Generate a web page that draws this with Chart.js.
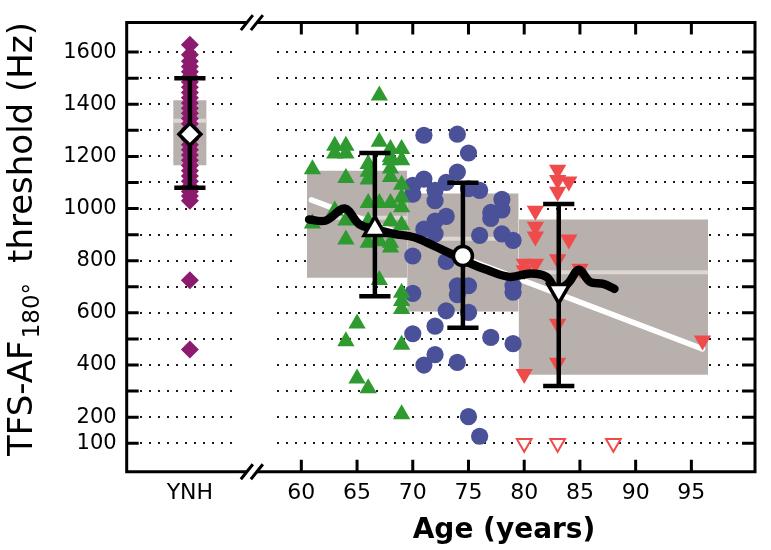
<!DOCTYPE html>
<html>
<head>
<meta charset="utf-8">
<script src="https://cdn.jsdelivr.net/npm/chart.js@4.4.0/dist/chart.umd.min.js"></script>
<style>html,body{margin:0;padding:0;background:#fff}canvas{display:block}</style>
</head>
<body>
<canvas id="c" width="771" height="550"></canvas>
<script>
// ---------------- data ----------------
const YNH_POS = 50;            // scale position used for the YNH column
const xTickValues = [60, 65, 70, 75, 80, 85, 90, 95];
const yTickLabels = [100, 200, 400, 600, 800, 1000, 1200, 1400, 1600];
const yTickMarks = [100,200,300,400,500,600,700,800,900,1000,1100,1200,1300,1400,1500,1600];

// young normal-hearing listeners
const ynhValues = [1628,1590,1565,1545,1525,1505,1485,1465,1445,1425,1405,1385,1365,1345,1325,1305,1285,1265,1245,1225,1205,1185,1165,1145,1125,1105,1085,1065,1048,1030,725,460];
const ynhStats = { mean: 1285, low: 1080, high: 1500, q1: 1166, median: 1337, q3: 1415 };

// elderly, 60-69
const greenAges   = [61,61,63,63,63,64,64,64,64,64,64,65,65,66,66,66,66,66,66,66,67,67,67,67,67,68,68,68,68,68,68,68,68,68,69,69,69,69,69,69,69,69,69,69,69];
const greenValues = [1151,943,1241,1211,993,1241,1211,1117,954,881,491,559,348,311,1171,1141,1111,1021,869,951,1433,1256,1021,875,726,1228,1198,1185,1154,1121,1021,869,851,951,1228,1185,1091,1042,1005,937,677,646,615,478,211];
// elderly, 70-79
const blueAges   = [71,74,75,74,71,70,70,73,72,72,76,75,78,77,78,77,73,72,71,72,76,78,79,70,73,74,75,74,79,79,70,73,75,70,72,77,79,71,72,74,75,76];
const blueValues = [1281,1285,1213,1140,1113,1089,1055,1100,1070,1030,1070,1076,1035,985,995,962,970,952,921,903,897,903,878,818,797,704,704,670,704,679,675,608,602,520,549,506,482,400,440,410,202,127];
// elderly, 80+
const redAges   = [83,83,84,83,81,81,81,84,83,80,81,85,80,83,83,80,96];
const redValues = [1149,1109,1104,1064,992,930,893,881,806,788,788,769,763,558,409,366,494];
const redCensoredAges   = [80,83,88];
const redCensoredValues = [100,100,100];

// age-group summaries
const groupAgeStart = [60.5, 69.5, 79.5];
const groupAgeEnd   = [69.5, 79.5, 96.5];
const groupQ1       = [735, 605, 363];
const groupQ3       = [1145, 1058, 958];
const groupMedian   = [965, 884, 756];
const groupMeanAge  = [66.6, 74.5, 83.1];
const groupMean     = [921, 818, 685];
const groupLow      = [664, 543, 320];
const groupHigh     = [1213, 1099, 1017];

// running average and linear regression
const trendAges   = [60.7,62.2,63.9,65.2,66.6,68.3,70.1,71.9,73.4,75.1,76.7,78.7,80.6,82.0,82.9,83.9,84.9,85.9,87.1,88.1];
const trendValues = [958,954,1000,940,921,903,890,857,827,791,764,738,751,738,690,712,765,719,711,692];
const regressionAges   = [60.9, 96];
const regressionValues = [1033, 462];

// ---------------- styles ----------------
const C_PURPLE = '#8c1b6e', C_GREEN = '#2f9a30', C_BLUE = '#4a5198', C_RED = '#ef4b4b';
const C_BOX = '#b8b0ad', C_MED = '#ddd7d4';
const YNH_BOX_HALF = 1.5, CAP_HALF = 1.4;
const BREAK_AGE = 55.56;

const pts = (xs, ys) => xs.map((x, i) => ({ x, y: ys[i] }));
const datasets = [];

// boxes
const boxes = [{ s: YNH_POS - YNH_BOX_HALF, e: YNH_POS + YNH_BOX_HALF, q1: ynhStats.q1, q3: ynhStats.q3, m: ynhStats.median }];
groupAgeStart.forEach((s, i) => boxes.push({ s, e: groupAgeEnd[i], q1: groupQ1[i], q3: groupQ3[i], m: groupMedian[i] }));
boxes.forEach(b => {
  datasets.push({ type: 'line', order: 100, data: [{ x: b.s, y: b.q3 }, { x: b.e, y: b.q3 }],
    fill: { value: b.q1 }, backgroundColor: C_BOX, borderWidth: 0, pointRadius: 0 });
  datasets.push({ type: 'line', order: 90, data: [{ x: b.s, y: b.m }, { x: b.e, y: b.m }],
    borderColor: C_MED, borderWidth: 4, pointRadius: 0, fill: false });
});
// regression
datasets.push({ type: 'line', order: 80, data: pts(regressionAges, regressionValues), borderColor: '#ffffff', borderWidth: 5.5, pointRadius: 0, fill: false, borderCapStyle: 'round' });

// scatter groups
datasets.push({ type: 'scatter', order: 50, data: ynhValues.map(v => ({ x: YNH_POS, y: v })), pointStyle: 'rectRot', pointRadius: 9, backgroundColor: C_PURPLE, borderWidth: 0 });
datasets.push({ type: 'scatter', order: 50, data: pts(greenAges, greenValues), pointStyle: 'triangle', pointRadius: 10, backgroundColor: C_GREEN, borderWidth: 0 });
datasets.push({ type: 'scatter', order: 50, data: pts(blueAges, blueValues), pointStyle: 'circle', pointRadius: 8.6, backgroundColor: C_BLUE, borderWidth: 0 });
datasets.push({ type: 'scatter', order: 50, data: pts(redAges, redValues), pointStyle: 'triangle', rotation: 180, pointRadius: 10, backgroundColor: C_RED, borderWidth: 0 });
datasets.push({ type: 'scatter', order: 50, data: pts(redCensoredAges, redCensoredValues), pointStyle: 'triangle', rotation: 180, pointRadius: 8.5, backgroundColor: '#ffffff', borderColor: C_RED, borderWidth: 2 });

// running average
datasets.push({ type: 'line', order: 30, data: pts(trendAges, trendValues), borderColor: '#000', borderWidth: 8.5, pointRadius: 0, tension: 0.35, fill: false, borderCapStyle: 'round', borderJoinStyle: 'round' });

// error bars
const meanX = [YNH_POS].concat(groupMeanAge);
const meanY = [ynhStats.mean].concat(groupMean);
const lowY = [ynhStats.low].concat(groupLow);
const highY = [ynhStats.high].concat(groupHigh);
meanX.forEach((mx, i) => {
  datasets.push({ type: 'line', order: 20, spanGaps: false, borderColor: '#000', borderWidth: 4.5, pointRadius: 0, fill: false,
    data: [{ x: mx, y: lowY[i] }, { x: mx, y: highY[i] }, { x: mx, y: null },
           { x: mx - CAP_HALF, y: highY[i] }, { x: mx + CAP_HALF, y: highY[i] }, { x: mx, y: null },
           { x: mx - CAP_HALF, y: lowY[i] }, { x: mx + CAP_HALF, y: lowY[i] }] });
});
// means
const meanStyles = ['rectRot', 'triangle', 'circle', 'triangle'];
const meanRot = [0, 0, 0, 180];
const meanRad = [11, 12.5, 9.5, 12.5];
meanX.forEach((mx, i) => {
  datasets.push({ type: 'scatter', order: 10, data: [{ x: mx, y: meanY[i] }], pointStyle: meanStyles[i], rotation: meanRot[i],
    pointRadius: meanRad[i], backgroundColor: '#fff', borderColor: '#000', borderWidth: 3.5 });
});

// ---------------- decorations ----------------
const decor = {
  id: 'decor',
  beforeDatasetsDraw(chart) {
    const { ctx, chartArea: a, scales: { x, y } } = chart;
    const bx = x.getPixelForValue(BREAK_AGE);
    ctx.save();
    // dotted grid
    ctx.fillStyle = '#1a1a1a';
    yTickMarks.forEach(v => {
      const py = Math.round(y.getPixelForValue(v)) - 1;
      for (let px = a.left + 13; px <= bx - 22; px += 9) ctx.fillRect(Math.round(px), py, 2, 2);
      for (let px = bx + 25; px <= a.right - 16; px += 9) ctx.fillRect(Math.round(px), py, 2, 2);
    });
    ctx.restore();
  },
  afterDatasetsDraw(chart) {
    const { ctx, chartArea: a, scales: { x, y } } = chart;
    const bx = x.getPixelForValue(BREAK_AGE);
    ctx.save();
    ctx.strokeStyle = '#000';
    ctx.lineWidth = 3;
    ctx.lineCap = 'butt';
    ctx.beginPath();
    // left & right axes
    ctx.moveTo(a.left, a.top - 1.5); ctx.lineTo(a.left, a.bottom + 1.5);
    ctx.moveTo(a.right, a.top - 1.5); ctx.lineTo(a.right, a.bottom + 1.5);
    // top / bottom with break
    [a.top, a.bottom].forEach(py => {
      ctx.moveTo(a.left, py); ctx.lineTo(bx - 5, py);
      ctx.moveTo(bx + 5, py); ctx.lineTo(a.right, py);
    });
    ctx.stroke();
    // break marks
    ctx.lineWidth = 3;
    ctx.beginPath();
    [a.top, a.bottom].forEach(py => {
      [-5, 5].forEach(off => {
        ctx.moveTo(bx + off - 6, py + 7.5);
        ctx.lineTo(bx + off + 6, py - 7.5);
      });
    });
    ctx.stroke();
    // tick marks
    ctx.lineWidth = 3;
    ctx.beginPath();
    yTickMarks.forEach(v => {
      const py = y.getPixelForValue(v);
      ctx.moveTo(a.left, py); ctx.lineTo(a.left + 12, py);
      ctx.moveTo(a.right, py); ctx.lineTo(a.right - 13, py);
    });
    xTickValues.forEach(v => {
      const px = x.getPixelForValue(v);
      ctx.moveTo(px, a.top); ctx.lineTo(px, a.top + 12);
      ctx.moveTo(px, a.bottom); ctx.lineTo(px, a.bottom - 12);
    });
    ctx.stroke();
    ctx.restore();
  },
  afterDraw(chart) {
    const { ctx } = chart;
    ctx.save();
    ctx.fillStyle = '#000';
    // x title
    ctx.font = 'bold 28px "DejaVu Sans"';
    ctx.textAlign = 'center';
    ctx.textBaseline = 'alphabetic';
    ctx.fillText('Age (years)', 504, 538);
    // y title with subscript
    ctx.translate(32, 456);
    ctx.rotate(-Math.PI / 2);
    ctx.textAlign = 'left';
    let cx = 0;
    ctx.font = '34px "DejaVu Sans"';
    ctx.fillText('TFS-AF', cx, 0); cx += ctx.measureText('TFS-AF').width + 2;
    ctx.font = '23px "DejaVu Sans"';
    ctx.fillText('180°', cx, 7); cx += ctx.measureText('180°').width + 10;
    ctx.font = '34px "DejaVu Sans"';
    ctx.fillText('threshold (Hz)', cx + 10, 0);
    ctx.restore();
  }
};

new Chart(document.getElementById('c'), {
  data: { datasets },
  options: {
    responsive: false,
    animation: false,
    devicePixelRatio: 1,
    layout: { padding: { top: 9, right: 2.7, left: 0, bottom: 0 } },
    plugins: { legend: { display: false }, tooltip: { enabled: false } },
    scales: {
      x: {
        type: 'linear', min: 44.33, max: 100.71,
        afterFit: s => { s.height = 78.3; },
        afterBuildTicks: s => { s.ticks = [YNH_POS].concat(xTickValues).map(v => ({ value: v })); },
        grid: { display: false, drawTicks: false },
        border: { display: false },
        ticks: { padding: 8, color: '#000', font: { family: 'DejaVu Sans', size: 22 }, maxRotation: 0, autoSkip: false,
          callback: v => v === YNH_POS ? 'YNH' : String(v) }
      },
      y: {
        type: 'linear', min: -9, max: 1713,
        afterFit: s => { s.width = 126.7; },
        afterBuildTicks: s => { s.ticks = yTickLabels.map(v => ({ value: v })); },
        grid: { display: false, drawTicks: false },
        border: { display: false },
        ticks: { padding: 10, color: '#000', font: { family: 'DejaVu Sans', size: 21 }, autoSkip: false,
          callback: v => String(v) }
      }
    }
  },
  plugins: [decor]
});
</script>
</body>
</html>
